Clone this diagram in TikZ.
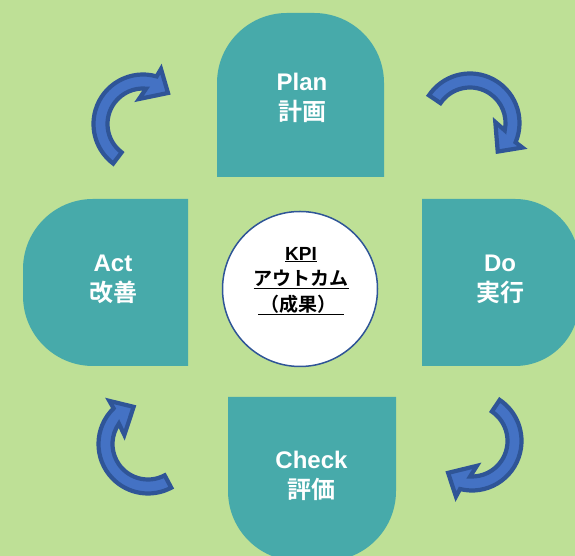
\documentclass[tikz,border=0pt]{standalone}
\usepackage{fontspec}
\setmainfont{Liberation Sans}
\newfontfamily\jp{Noto Sans CJK JP}[BoldFont=Noto Sans CJK JP Bold]
\definecolor{bggreen}{RGB}{190,224,150}
\definecolor{tealbox}{RGB}{71,170,170}
\definecolor{arrowblue}{RGB}{68,114,196}
\definecolor{arrowdark}{RGB}{47,85,151}

\begin{document}
\begin{tikzpicture}
[x=1pt,y=1pt,stage/.style = {fill = tealbox},
stagetext/.style = {text = white, align = center, font = \fontsize{24}{30}\selectfont\bfseries},
kpicircle/.style = {draw = arrowdark, line width = 1.5pt, fill = white, circle, minimum size = 155pt, inner sep = 0pt},
kpitext/.style = {align = center, font = \fontsize{19}{25.5}\selectfont\bfseries},
cyclearrow/.style = {fill = arrowblue, draw = arrowdark, line width = 4.2pt},]
\clip (0,0) rectangle (575,556);
\fill[bggreen] (0,0) rectangle (575,556);

% the four stages
\fill[stage] (217,379) -- (217,473) arc[start angle=180, end angle=90, radius=70pt] -- (314,543) arc[start angle=90, end angle=0, radius=70pt] -- (384,379) -- cycle;
\fill[stage] (422,190) -- (422,357) -- (515,357) arc[start angle=90, end angle=0, radius=64pt] -- (579,254) arc[start angle=0, end angle=-90, radius=64pt] -- cycle;
\fill[stage] (228,159) -- (396,159) -- (396,65) arc[start angle=0, end angle=-90, radius=70pt] -- (298,-5) arc[start angle=270, end angle=180, radius=70pt] -- cycle;
\fill[stage] (188,190) -- (188,357) -- (93,357) arc[start angle=90, end angle=180, radius=70pt] -- (23,260) arc[start angle=180, end angle=270, radius=70pt] -- cycle;

\node[stagetext] (plan) at (302,458) {Plan\\{\jp 計画}};
\node[stagetext] (do) at (500,276.5) {Do\\{\jp 実行}};
\node[stagetext] (check) at (311.5,80.5) {Check\\{\jp 評価}};
\node[stagetext] (act) at (113,277) {Act\\{\jp 改善}};

% circular arrows
\foreach \cx/\cy/\turn/\tail in {143/432/0/233, 470/433/-97/243, 472/115/182/234, 148/112/60/238}
  \draw[cyclearrow, shift={(\cx,\cy)}, rotate=\turn] (\tail:35.5) arc[start angle=\tail, end angle=85, radius=35.5pt] -- (-4,25) -- (25,31) -- (18,55) -- (74:49.5) arc[start angle=74, end angle=\tail, radius=49.5pt] -- cycle;

% centre
\node[kpicircle] (kpi) at (300,267) {};
\node[kpitext] (kpilabel) at (301,275) {\underline{KPI}\\\underline{\jp アウトカム}\\\underline{\jp\hspace{2pt}（成果）\hspace{8pt}}};

\end{tikzpicture}
\end{document}
